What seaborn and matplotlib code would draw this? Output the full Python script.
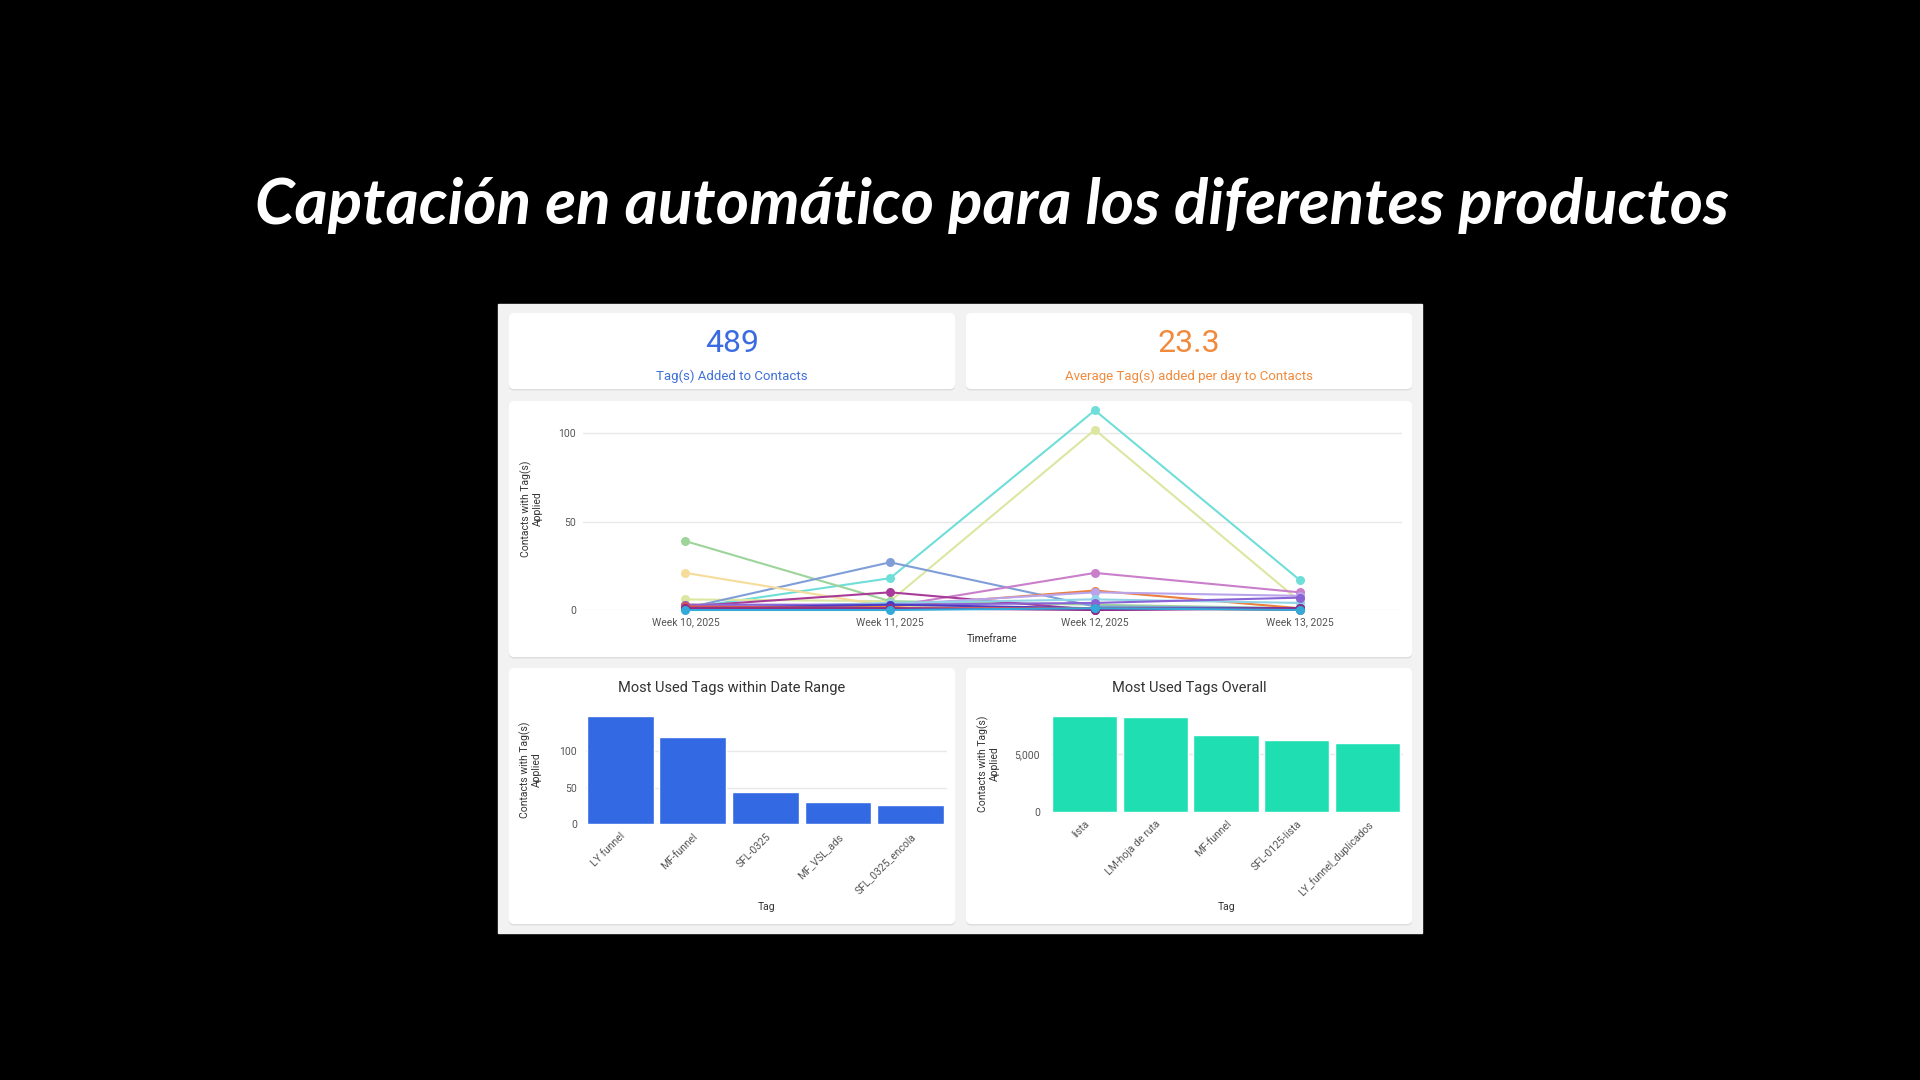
import numpy as np
import pandas as pd
import matplotlib
import matplotlib.pyplot as plt
import seaborn as sns
from matplotlib.patches import FancyBboxPatch
from matplotlib.ticker import FuncFormatter

matplotlib.use('Agg')

# datos
titulo = "Captación en automático para los diferentes productos"
total_tags = "489"
total_label = "Tag(s) Added to Contacts"
media_dia = "23.3"
media_label = "Average Tag(s) added per day to Contacts"

semanas = ["Week 10, 2025", "Week 11, 2025", "Week 12, 2025", "Week 13, 2025"]

# una serie por tag (semana 10..13)
serie_01 = [1, 18, 113, 17]
serie_02 = [6, 5, 102, 5]
serie_03 = [39, 5, 3, 1]
serie_04 = [1, 27, 2, 1]
serie_05 = [21, 2, 1, 1]
serie_06 = [1, 2, 21, 10]
serie_07 = [2, 10, 0, 1]
serie_08 = [3, 2, 11, 1]
serie_09 = [2, 3, 10, 8]
serie_10 = [1, 4, 6, 4]
serie_11 = [3, 3, 4, 7]
serie_12 = [1, 3, 1, 1]
serie_13 = [2, 1, 1, 0]
serie_14 = [1, 1, 0, 1]
serie_15 = [0, 0, 1, 0]

colores_series = ["#6fded9", "#dde6a0", "#9dd49a", "#7f9ed8", "#f5dc9a",
                  "#c97fc9", "#a83c98", "#ec7f3c", "#b9a3ea", "#8fd4e6",
                  "#8a63d6", "#4a3dc4", "#d85050", "#8e2a8a", "#32a9d9"]

tags_rango = ["LY funnel", "MF-funnel", "SFL-0325", "MF_VSL_ads", "SFL_0325_encola"]
valores_rango = [148, 119, 44, 31, 26]

tags_total = ["lista", "LM-hoja de ruta", "MF-funnel", "SFL-0125-lista", "LY_funnel_duplicados"]
valores_total = [8380, 8240, 6670, 6230, 6000]

W, H = 1920, 1080
sns.set_theme(style="white")
plt.rcParams['font.family'] = ['Roboto', 'DejaVu Sans']

fig = plt.figure(figsize=(W / 100, H / 100), dpi=100, facecolor="black")

# capa de fondo en pixeles
bg = fig.add_axes([0, 0, 1, 1])
bg.set_xlim(0, W)
bg.set_ylim(H, 0)
bg.axis("off")
bg.set_facecolor("black")
bg.add_patch(plt.Rectangle((498, 304), 924, 629, color="#f2f2f2", zorder=0))


def tarjeta(x0, y0, x1, y1):
    sombra = FancyBboxPatch((x0, y0 + 1.5), x1 - x0, y1 - y0,
                            boxstyle="round,pad=0,rounding_size=5",
                            facecolor="#d9d9d9", edgecolor="none", alpha=0.8, zorder=1)
    bg.add_patch(sombra)
    caja = FancyBboxPatch((x0, y0), x1 - x0, y1 - y0,
                          boxstyle="round,pad=0,rounding_size=5",
                          facecolor="white", edgecolor="none", zorder=2)
    bg.add_patch(caja)


tarjeta(509, 313, 955, 389)
tarjeta(966, 313, 1412, 389)
tarjeta(509, 401, 1412, 657)
tarjeta(509, 668, 955, 924)
tarjeta(966, 668, 1412, 924)

# titulo
t = fig.text(992 / W, 1 - 224 / H, titulo, color="white", ha="center", va="baseline",
             family=["Lato", "DejaVu Sans"], style="italic", fontweight="bold", fontsize=46)
fig.canvas.draw()
ancho = t.get_window_extent().width
t.set_fontsize(46 * 1472 / ancho)

# KPIs
fig.text(732 / W, 1 - 344 / H, total_tags, color="#3a6be0", ha="center", va="center", fontsize=23)
fig.text(732 / W, 1 - 376 / H, total_label, color="#3f6fd8", ha="center", va="center", fontsize=9.5)
fig.text(1189 / W, 1 - 344 / H, media_dia, color="#f08a3c", ha="center", va="center", fontsize=23)
fig.text(1189 / W, 1 - 376 / H, media_label, color="#f08a3c", ha="center", va="center", fontsize=9.5)

# titulos de barras (centrados en la tarjeta)
fig.text(732 / W, 1 - 688 / H, "Most Used Tags within Date Range", color="#333333",
         ha="center", va="center", fontsize=10.5)
fig.text(1189 / W, 1 - 688 / H, "Most Used Tags Overall", color="#333333",
         ha="center", va="center", fontsize=10.5)


def ejes_px(x0, y0, x1, y1):
    return fig.add_axes([x0 / W, 1 - y1 / H, (x1 - x0) / W, (y1 - y0) / H])


def estilo(ax, pad):
    ax.set_facecolor("none")
    for s in ax.spines.values():
        s.set_visible(False)
    ax.grid(axis="y", color="#e8e8e8", linewidth=1)
    ax.grid(axis="x", visible=False)
    ax.tick_params(axis="both", length=0, labelsize=7.5, colors="#555555")
    ax.tick_params(axis="y", pad=pad)
    ax.set_axisbelow(True)


# grafico de lineas
series = [serie_01, serie_02, serie_03, serie_04, serie_05, serie_06, serie_07, serie_08,
          serie_09, serie_10, serie_11, serie_12, serie_13, serie_14, serie_15]
filas = []
for i, s in enumerate(series):
    for j, v in enumerate(s):
        filas.append({"serie": f"s{i + 1:02d}", "semana": j, "valor": v})
df_lineas = pd.DataFrame(filas)

ax1 = ejes_px(583, 406.8, 1402, 610)
sns.lineplot(data=df_lineas, x="semana", y="valor", hue="serie",
             palette=colores_series, marker="o", markersize=6.5, markeredgewidth=0,
             linewidth=1.5, legend=False, ax=ax1)
for ln in ax1.lines:
    ln.set_clip_on(False)
estilo(ax1, 5)
ax1.set_xlim(-0.5, 3.5)
ax1.set_ylim(0, 115)
ax1.set_yticks([0, 50, 100])
ax1.set_xticks(range(len(semanas)))
ax1.set_xticklabels(semanas)
ax1.tick_params(axis="x", pad=5)
ax1.set_xlabel("Timeframe", fontsize=7.5, color="#333333")
ax1.xaxis.set_label_coords(0.5, -0.12)
ax1.set_ylabel("Contacts with Tag(s)\nApplied", fontsize=7.5, color="#333333", linespacing=1.1)
ax1.yaxis.set_label_coords(-0.049, 0.5)

# barras dentro del rango
ax2 = ejes_px(586, 714.4, 947, 824.3)
sns.barplot(x=tags_rango, y=valores_rango, color="#3369e2", saturation=1, width=0.92, ax=ax2)
estilo(ax2, 6.5)
ax2.set_xlim(-0.47, 4.5)
ax2.set_ylim(0, 150)
ax2.set_yticks([0, 50, 100])
ax2.tick_params(axis="x", pad=5)
plt.setp(ax2.get_xticklabels(), rotation=45, ha="right", rotation_mode="anchor")
ax2.set_xlabel("Tag", fontsize=7.5, color="#333333")
ax2.xaxis.set_label_coords(0.5, -0.71)
ax2.set_ylabel("Contacts with Tag(s)\nApplied", fontsize=7.5, color="#333333", linespacing=1.1)
ax2.yaxis.set_label_coords(-0.122, 0.5)

# barras totales
ax3 = ejes_px(1051, 715.3, 1403, 811.7)
sns.barplot(x=tags_total, y=valores_total, color="#1fdfb2", saturation=1, width=0.92, ax=ax3)
estilo(ax3, 8)
ax3.set_xlim(-0.47, 4.5)
ax3.set_ylim(0, 8400)
ax3.set_yticks([0, 5000])
ax3.yaxis.set_major_formatter(FuncFormatter(lambda v, p: f"{v:,.0f}"))
ax3.tick_params(axis="x", pad=5)
plt.setp(ax3.get_xticklabels(), rotation=45, ha="right", rotation_mode="anchor")
ax3.set_xlabel("Tag", fontsize=7.5, color="#333333")
ax3.xaxis.set_label_coords(0.5, -0.937)
ax3.set_ylabel("Contacts with Tag(s)\nApplied", fontsize=7.5, color="#333333", linespacing=1.1)
ax3.yaxis.set_label_coords(-0.145, 0.5)

fig.savefig("out.png", dpi=100, facecolor="black")
